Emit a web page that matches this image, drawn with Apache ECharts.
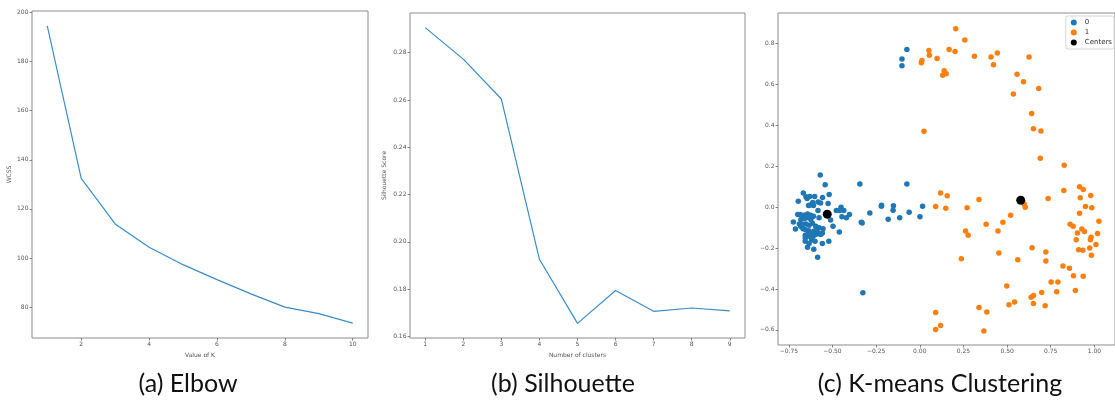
<!DOCTYPE html>
<html>
<head>
<meta charset="utf-8">
<script src="https://cdn.jsdelivr.net/npm/echarts@6/dist/echarts.min.js"></script>
<style>
  html, body { margin: 0; padding: 0; background: #fff; }
  #chart { width: 1115px; height: 405px; }
</style>
</head>
<body>
<div id="chart"></div>
<script>
// (a) Elbow
const elbowK = [1, 2, 3, 4, 5, 6, 7, 8, 9, 10];
const wcss = [194.5, 132.4, 113.9, 104.4, 97.3, 91.2, 85.4, 80.0, 77.4, 73.5];
const elbowXTicks = [2, 4, 6, 8, 10];
const elbowYTicks = [80, 100, 120, 140, 160, 180, 200];

// (b) Silhouette
const clusterCounts = [1, 2, 3, 4, 5, 6, 7, 8, 9];
const silhouette = [0.2906, 0.2773, 0.2604, 0.1926, 0.1655, 0.1794, 0.1706, 0.1720, 0.1708];
const silXTicks = [1, 2, 3, 4, 5, 6, 7, 8, 9];
const silYTicks = [0.16, 0.18, 0.20, 0.22, 0.24, 0.26, 0.28];

// (c) K-means clustering
const cluster0 = [
  [-0.570, 0.157], [-0.542, 0.110], [-0.343, 0.113], [-0.074, 0.114], [-0.074, 0.772], [-0.102, 0.725], [-0.102, 0.692],
  [-0.667, 0.070], [-0.652, 0.051], [-0.645, 0.043], [-0.630, 0.052], [-0.602, 0.052], [-0.557, 0.047], [-0.519, 0.062],
  [-0.696, 0.029], [-0.613, 0.023], [-0.583, 0.025], [-0.568, 0.020], [-0.525, 0.018], [-0.637, 0.008], [-0.628, 0.011], [-0.609, 0.008],
  [-0.583, -0.016], [-0.451, 0.000], [-0.459, -0.016], [-0.435, -0.016], [-0.403, -0.036], [-0.478, -0.016], [-0.446, -0.047], [-0.420, -0.052],
  [-0.286, -0.028], [-0.220, 0.005], [-0.219, 0.010], [-0.151, 0.007], [-0.153, -0.015], [-0.181, -0.059], [-0.115, -0.051], [-0.061, -0.025], [0.001, -0.047], [0.016, 0.005],
  [-0.335, -0.074], [-0.330, -0.077], [-0.326, -0.419],
  [-0.577, -0.052], [-0.609, -0.044], [-0.699, -0.036], [-0.684, -0.036], [-0.662, -0.039], [-0.643, -0.033], [-0.624, -0.039],
  [-0.681, -0.060], [-0.662, -0.056], [-0.643, -0.052], [-0.624, -0.060], [-0.511, -0.062], [-0.724, -0.072],
  [-0.690, -0.082], [-0.671, -0.085], [-0.652, -0.082], [-0.634, -0.088], [-0.615, -0.078],
  [-0.596, -0.093], [-0.577, -0.101], [-0.592, -0.113], [-0.712, -0.106],
  [-0.682, -0.093], [-0.669, -0.105], [-0.654, -0.110], [-0.636, -0.115], [-0.607, -0.118],
  [-0.558, -0.126], [-0.497, -0.093], [-0.461, -0.121],
  [-0.656, -0.137], [-0.637, -0.126], [-0.624, -0.131], [-0.611, -0.142], [-0.596, -0.134], [-0.581, -0.126], [-0.568, -0.134],
  [-0.554, -0.105], [-0.656, -0.150], [-0.634, -0.142], [-0.656, -0.167], [-0.620, -0.160], [-0.600, -0.167],
  [-0.558, -0.177], [-0.521, -0.167], [-0.634, -0.177], [-0.643, -0.196], [-0.607, -0.206], [-0.585, -0.245]
];
const cluster1 = [
  [0.206, 0.873], [0.258, 0.818], [0.168, 0.772], [0.202, 0.762], [0.052, 0.766], [0.055, 0.743], [0.099, 0.728],
  [0.012, 0.718], [0.009, 0.707], [0.140, 0.668], [0.151, 0.653], [0.131, 0.645], [0.313, 0.738], [0.408, 0.735],
  [0.444, 0.754], [0.422, 0.697], [0.626, 0.735], [0.557, 0.650], [0.594, 0.614], [0.536, 0.554], [0.681, 0.581],
  [0.641, 0.458], [0.651, 0.384], [0.694, 0.373], [0.690, 0.239], [0.827, 0.205], [0.024, 0.371],
  [0.119, 0.070], [0.157, 0.056], [0.091, 0.003], [0.149, -0.005], [0.271, -0.003], [0.339, 0.038], [0.380, -0.083],
  [0.476, -0.074], [0.448, -0.116], [0.262, -0.116], [0.277, -0.137], [0.453, -0.224], [0.238, -0.252],
  [0.825, 0.082], [0.915, 0.100], [0.936, 0.087], [0.979, 0.057], [0.919, 0.046], [0.735, 0.043], [0.598, 0.016],
  [0.604, 0.000], [0.949, 0.003], [0.985, -0.003], [0.915, -0.029], [0.520, -0.039], [1.026, -0.069], [0.861, -0.083],
  [0.878, -0.093], [0.928, -0.106], [0.943, -0.119], [0.903, -0.126], [1.018, -0.129], [0.981, -0.147], [0.977, -0.159],
  [0.896, -0.159], [1.009, -0.183], [0.973, -0.199], [0.910, -0.208], [0.934, -0.211], [0.983, -0.235], [0.643, -0.198],
  [0.722, -0.219], [0.722, -0.263], [0.561, -0.257], [0.820, -0.288], [0.857, -0.299], [0.880, -0.335], [0.936, -0.338],
  [0.752, -0.366], [0.791, -0.366], [0.498, -0.386], [0.784, -0.414], [0.891, -0.407], [0.698, -0.417], [0.638, -0.441],
  [0.651, -0.432], [0.651, -0.471], [0.543, -0.464], [0.511, -0.477], [0.718, -0.482], [0.091, -0.515], [0.119, -0.579],
  [0.091, -0.598], [0.339, -0.490], [0.384, -0.512], [0.367, -0.605]
];
const centers = [[-0.530, -0.034], [0.578, 0.034]];
const kmXTicks = [-0.75, -0.5, -0.25, 0, 0.25, 0.5, 0.75, 1.0];
const kmYTicks = [-0.6, -0.4, -0.2, 0, 0.2, 0.4, 0.6, 0.8];

const captions = ["(a) Elbow", "(b) Silhouette", "(c) K-means Clustering"];

const FONT = "DejaVu Sans";
const minus = (s) => s.replace("-", "\u2212");

function axis(min, max, ticks, fmt, extra) {
  return Object.assign({
    type: "value",
    min: min,
    max: max,
    axisLine: { show: false, onZero: false },
    splitLine: { show: false },
    axisTick: { show: true, inside: false, length: 2.5, customValues: ticks, lineStyle: { color: "#666", width: 0.8 } },
    axisLabel: { customValues: ticks, formatter: fmt, color: "#555", fontSize: 6, fontFamily: FONT, margin: 3.5 },
    nameTextStyle: { color: "#555", fontSize: 6, fontFamily: FONT },
    nameLocation: "middle"
  }, extra || {});
}

const gridStyle = { show: true, borderColor: "#8c8c8c", borderWidth: 1, backgroundColor: "transparent" };

const option = {
  animation: false,
  backgroundColor: "#fff",
  grid: [
    Object.assign({ left: 32, top: 11, width: 336, height: 327 }, gridStyle),
    Object.assign({ left: 410, top: 13, width: 335, height: 325 }, gridStyle),
    Object.assign({ left: 778, top: 13, width: 343, height: 332 }, gridStyle)
  ],
  xAxis: [
    axis(0.55, 10.45, elbowXTicks, (v) => String(v), { gridIndex: 0, name: "Value of K", nameGap: 13 }),
    axis(0.6, 9.4, silXTicks, (v) => String(v), { gridIndex: 1, name: "Number of clusters", nameGap: 13 }),
    axis(-0.812, 1.118, kmXTicks, (v) => minus(v.toFixed(2)), { gridIndex: 2 })
  ],
  yAxis: [
    axis(67.45, 200.55, elbowYTicks, (v) => String(v), { gridIndex: 0, name: "WCSS", nameGap: 20 }),
    axis(0.1593, 0.2968, silYTicks, (v) => v.toFixed(2), { gridIndex: 1, name: "Silhouette Score", nameGap: 23 }),
    axis(-0.674, 0.95, kmYTicks, (v) => minus(v.toFixed(1)), { gridIndex: 2 })
  ],
  legend: {
    orient: "vertical",
    right: 1,
    top: 16,
    data: [
      { name: "0", icon: "circle" },
      { name: "1", icon: "circle" },
      { name: "Centers", icon: "circle" }
    ],
    itemWidth: 6,
    itemHeight: 6,
    itemGap: 3,
    padding: [3, 2, 3, 5],
    backgroundColor: "rgba(255,255,255,0.9)",
    borderColor: "#d6d6d6",
    borderWidth: 1,
    borderRadius: 2,
    textStyle: { color: "#333", fontSize: 7, fontFamily: FONT, padding: [0, 0, 0, 3] }
  },
  graphic: captions.map((t, i) => ({
    type: "text",
    x: [188, 563, 940][i],
    y: 384,
    style: { text: t, fontSize: 25, fontFamily: "Lato", fill: "#111", textAlign: "center", textVerticalAlign: "middle" }
  })),
  series: [
    {
      type: "line",
      name: "elbow",
      xAxisIndex: 0,
      yAxisIndex: 0,
      data: elbowK.map((k, i) => [k, wcss[i]]),
      showSymbol: false,
      lineStyle: { color: "#3a8ccb", width: 1.2 }
    },
    {
      type: "line",
      name: "silhouette",
      xAxisIndex: 1,
      yAxisIndex: 1,
      data: clusterCounts.map((k, i) => [k, silhouette[i]]),
      showSymbol: false,
      lineStyle: { color: "#3a8ccb", width: 1.2 }
    },
    {
      type: "scatter",
      name: "0",
      xAxisIndex: 2,
      yAxisIndex: 2,
      data: cluster0,
      symbolSize: 5.5,
      itemStyle: { color: "#1f77b4", opacity: 1 }
    },
    {
      type: "scatter",
      name: "1",
      xAxisIndex: 2,
      yAxisIndex: 2,
      data: cluster1,
      symbolSize: 5.5,
      itemStyle: { color: "#ff7f0e", opacity: 1 }
    },
    {
      type: "scatter",
      name: "Centers",
      xAxisIndex: 2,
      yAxisIndex: 2,
      data: centers,
      symbolSize: 9,
      z: 5,
      itemStyle: { color: "#000", opacity: 1 }
    }
  ]
};

const chart = echarts.init(document.getElementById("chart"));
chart.setOption(option);
</script>
</body>
</html>
